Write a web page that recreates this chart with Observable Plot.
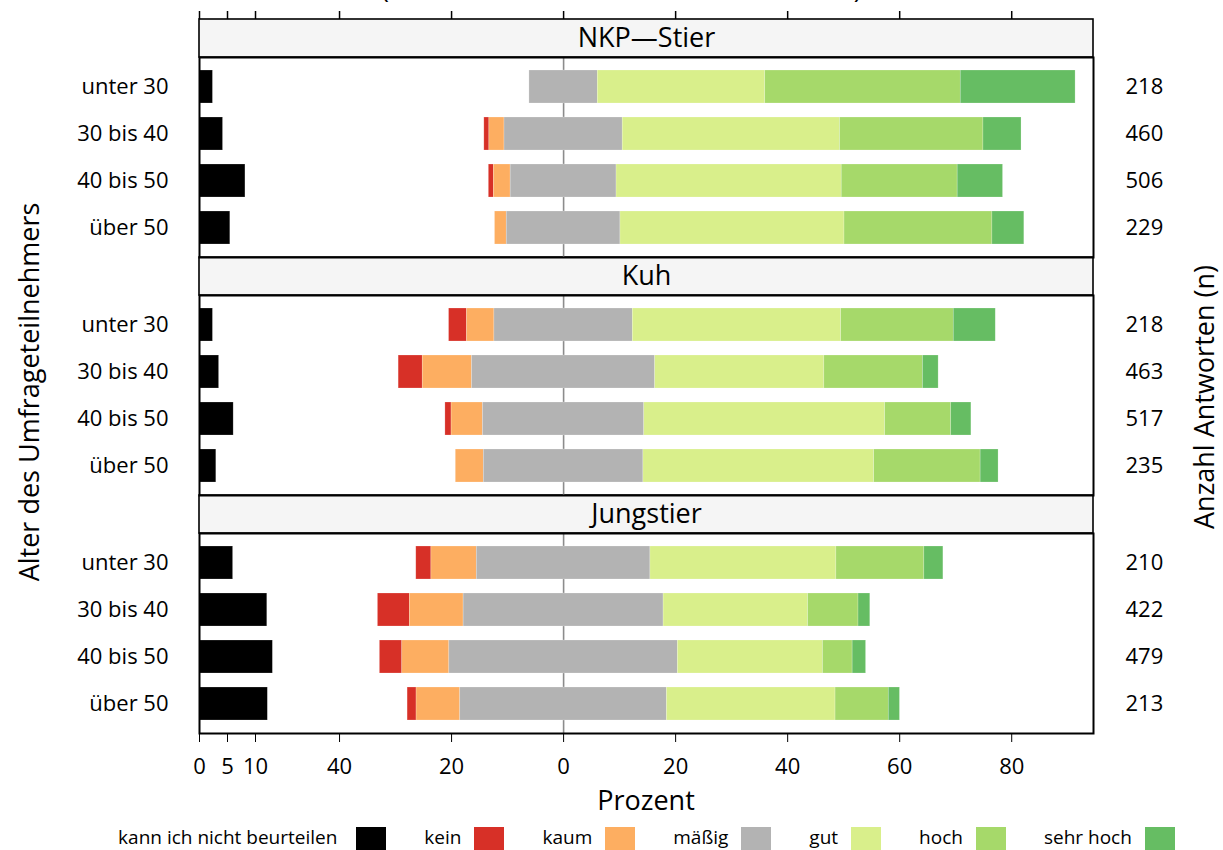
<!DOCTYPE html>
<html><head><meta charset="utf-8">
<script src="https://cdn.jsdelivr.net/npm/d3@7"></script>
<script src="https://cdn.jsdelivr.net/npm/@observablehq/plot@0.6"></script>
<style>
body{margin:0;background:#fff;font-family:"Open Sans",sans-serif;}
#chart svg{display:block;overflow:visible;}
#legend{display:flex;justify-content:center;align-items:flex-start;width:1293px;padding-top:9px;font-size:19px;line-height:20px;height:30px;white-space:nowrap;color:#000;}
.item{display:flex;align-items:flex-start;margin:0 19px;}
.sw{width:30px;height:24px;margin-left:13px;}
.item:first-child .sw{margin-left:19px;}
</style></head><body><div id="chart"></div><div id="legend"></div>
<script>
// ---- data (percent of answers) ----
const animals = ["NKP\u2014Stier", "Kuh", "Jungstier"];
const ages = ["unter 30", "30 bis 40", "40 bis 50", "über 50"];
const categories = ["kann ich nicht beurteilen", "kein", "kaum", "mäßig", "gut", "hoch", "sehr hoch"];
const colors = ["#000000", "#d73027", "#fdae61", "#b3b3b3", "#d9ef8b", "#a6d96a", "#66bd63"];
// rows: ages; columns: categories
const nkpStier = [
  [2.4, 0, 0, 12.2, 29.9, 34.9, 20.5],
  [4.2, 0.9, 2.7, 21.1, 38.8, 25.6, 6.8],
  [8.2, 0.9, 3.0, 18.9, 40.2, 20.7, 8.1],
  [5.5, 0, 2.1, 20.3, 40.0, 26.4, 5.7]
];
const kuh = [
  [2.4, 3.2, 4.9, 24.7, 37.2, 20.1, 7.5],
  [3.5, 4.3, 8.8, 32.7, 30.2, 17.6, 2.8],
  [6.1, 1.1, 5.6, 28.8, 43.0, 11.8, 3.6],
  [3.0, 0, 5.0, 28.5, 41.2, 19.0, 3.2]
];
const jungstier = [
  [6.0, 2.7, 8.1, 31.0, 33.2, 15.7, 3.4],
  [12.1, 5.7, 9.6, 35.7, 25.8, 9.0, 2.1],
  [13.1, 4.0, 8.4, 40.8, 25.9, 5.3, 2.4],
  [12.2, 1.6, 7.8, 36.9, 30.1, 9.5, 2.0]
];
const nNKP = [218, 460, 506, 229];
const nKuh = [218, 463, 517, 235];
const nJung = [210, 422, 479, 213];
const tickValues = [-65, -60, -55, -40, -20, 0, 20, 40, 60, 80];
const tickLabels = ["0", "5", "10", "40", "20", "0", "20", "40", "60", "80"];
const xDomain = [-65, 94.6];
const parenX = [-31.8, 52.6];

// ---- build tables ----
const perAnimal = [nkpStier, kuh, jungstier];
const nPer = [nNKP, nKuh, nJung];
const bars = [];
const nTable = [];
perAnimal.forEach((rows, ai) => {
  rows.forEach((v, ri) => {
    const animal = animals[ai], age = ages[ri];
    // "kann ich nicht beurteilen" from the left edge
    bars.push({animal, age, cat: categories[0], x1: xDomain[0], x2: xDomain[0] + v[0]});
    // diverging part, neutral centred on 0
    let start = -(v[1] + v[2] + v[3] / 2);
    for (let c = 1; c < 7; c++) {
      if (v[c] > 0) bars.push({animal, age, cat: categories[c], x1: start, x2: start + v[c]});
      start += v[c];
    }
    nTable.push({animal, age, n: nPer[ai][ri]});
  });
});

const W = 1223, H = 818;
const plot = Plot.plot({
  width: W, height: H,
  marginLeft: 199, marginRight: 130, marginTop: 57, marginBottom: 85,
  style: {fontFamily: "Open Sans", fontSize: "22px", color: "black", background: "white", overflow: "visible"},
  x: {domain: xDomain, ticks: tickValues, tickFormat: d => tickLabels[tickValues.indexOf(d)], tickSize: 9, tickPadding: 16, label: null},
  y: {domain: ages, paddingInner: 0.3, paddingOuter: 0.25, tickSize: 0, tickPadding: 31, label: null},
  fy: {domain: animals, axis: null, paddingInner: 38 / 238, paddingOuter: 0, label: null},
  color: {domain: categories, range: colors},
  marks: [
    Plot.rect(animals, {fy: d => d, x1: () => xDomain[0], x2: () => xDomain[1], fill: "#f5f5f5", stroke: "black", strokeWidth: 1.6, insetTop: -38, insetBottom: 200}),
    Plot.text(animals, {fy: d => d, text: d => d, frameAnchor: "top", lineAnchor: "middle", dy: -19, fontSize: 27, fill: "black"}),
    Plot.ruleX(tickValues, {x: d => d, fy: () => animals[0], insetTop: -46, insetBottom: 238, stroke: "black", strokeWidth: 1.5}),
    Plot.ruleX([0], {stroke: "#8c8c8c", strokeWidth: 1.6}),
    Plot.barX(bars, {fy: "animal", y: "age", x1: "x1", x2: "x2", fill: "cat", stroke: "white", strokeOpacity: 0.35, strokeWidth: 0.6}),
    Plot.frame({stroke: "black", strokeWidth: 2}),
    Plot.text(nTable, {fy: "animal", y: "age", text: d => String(d.n), frameAnchor: "right", textAnchor: "start", dx: 32, fontSize: 22, fill: "black"})
  ]
});
document.getElementById("chart").appendChild(plot);

// axis titles
const svg = d3.select(plot);
const xs = plot.scale("x");
const midX = (xs.range[0] + xs.range[1]) / 2;
const tStyle = s => s.attr("font-family", "Open Sans").attr("font-size", 27).attr("fill", "black").attr("text-anchor", "middle");
svg.append("text").call(tStyle).attr("x", midX).attr("y", 810).text("Prozent");
svg.append("text").call(tStyle).attr("transform", "translate(39,392) rotate(-90)").text("Alter des Umfrageteilnehmers");
svg.append("text").call(tStyle).attr("transform", "translate(1214,397) rotate(-90)").text("Anzahl Antworten (n)");
svg.append("text").call(tStyle).attr("x", xs.apply(parenX[0])).attr("y", -2).text("(");
svg.append("text").call(tStyle).attr("x", xs.apply(parenX[1])).attr("y", -2).text(")");

// legend
const leg = d3.select("#legend");
categories.forEach((c, i) => {
  const it = leg.append("div").attr("class", "item");
  it.append("span").text(c);
  it.append("div").attr("class", "sw").style("background", colors[i]);
});
</script></body></html>
